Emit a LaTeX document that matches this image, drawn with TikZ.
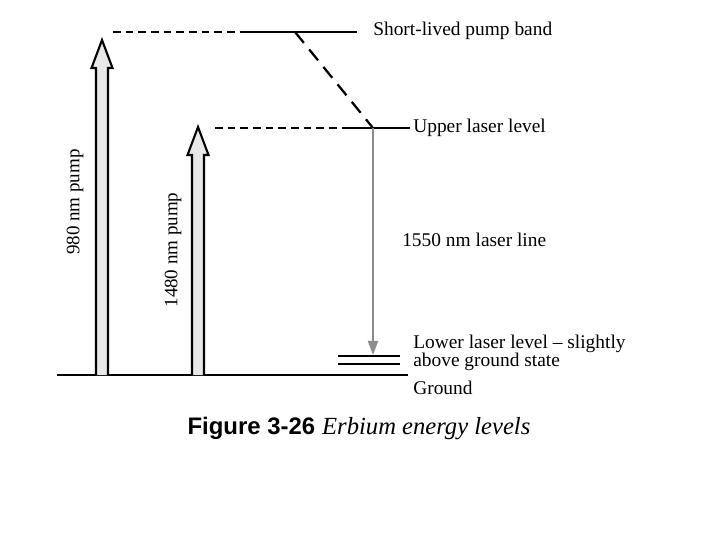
\documentclass[tikz,border=0pt]{standalone}
\usepackage{fontspec}
\setmainfont{Liberation Serif}
\newfontfamily\capfont{Liberation Sans}
\usepackage{tikz}
\usetikzlibrary{arrows.meta}
\usetikzlibrary{calc}
\newcommand*\pumparrow[3]{% x of shaft, y of tip, name
  \draw[pump] (#1-6,375) -- (#1-6,#2+28) -- (#1-10.5,#2+28) -- (#1,#2)
    -- (#1+10.5,#2+28) -- (#1+6,#2+28) -- (#1+6,375);
  \coordinate (#3) at (#1,#2);}
\begin{document}
\begin{tikzpicture}[x=0.025cm,y=-0.025cm]
			\tikzstyle{level}=[line width=1.6pt];
			\tikzstyle{pumpdash}=[line width=1.6pt,dash pattern=on 5.5pt off 3.5pt];
			\tikzstyle{decay}=[line width=1.6pt,dash pattern=on 10pt off 6pt];
			\tikzstyle{pump}=[line width=1.5pt,fill=black!9];
			\tikzstyle{lbl}=[anchor=west,inner sep=0pt,font=\fontsize{13.8}{15}\selectfont];
			\useasboundingbox (0,0) rectangle (720,540);
			% energy levels
			\coordinate (band) at (357,32);
			\coordinate (upper) at (410,128);
			\coordinate (lowA) at (400,356);
			\coordinate (lowB) at (400,364);
			\coordinate (gnd) at (408,375);
			\draw[level] (240,32) -- (band);
			\draw[pumpdash] (113,32) -- (240,32);
			\draw[level] (345,128) -- (upper);
			\draw[pumpdash] (215,128) -- (345,128);
			\draw[level] (338,356) -- (lowA);
			\draw[level] (338,364) -- (lowB);
			\draw[level] (57,375) -- (gnd);
			% fast decay and laser line
			\coordinate (decaytop) at (295,32);
			\coordinate (decaybot) at (373,128);
			\draw[decay] (decaytop) -- (decaybot);
			\draw[line width=1.7pt,black!45,-{Triangle[length=10pt,width=7pt]}] (decaybot) -- (373,355);
			% pump arrows
			\pumparrow{102}{40}{p980}
			\pumparrow{198}{127}{p1480}
			\node[rotate=90,font=\fontsize{13.5}{15}\selectfont](l980)at(75,202){980 nm pump};
			\node[rotate=90,font=\fontsize{13.5}{15}\selectfont](l1480)at(173,250){1480 nm pump};
			% labels
			\node[lbl](nband)at(373,31){Short-lived pump band};
			\node[lbl](nupper)at(413,128){Upper laser level};
			\node[lbl](nline)at(402,240){1550 nm laser line};
			\node[lbl](nlow1)at(413,344){Lower laser level -- slightly};
			\node[lbl](nlow2)at(413,362){above ground state};
			\node[lbl](ngnd)at(413,388){Ground};
			\node[inner sep=0pt](cap)at(359,428){{\capfont\bfseries\fontsize{17}{19}\selectfont Figure 3-26}\hspace{5pt}{\itshape\fontsize{17.5}{19}\selectfont Erbium energy levels}};
		\end{tikzpicture}
\end{document}
